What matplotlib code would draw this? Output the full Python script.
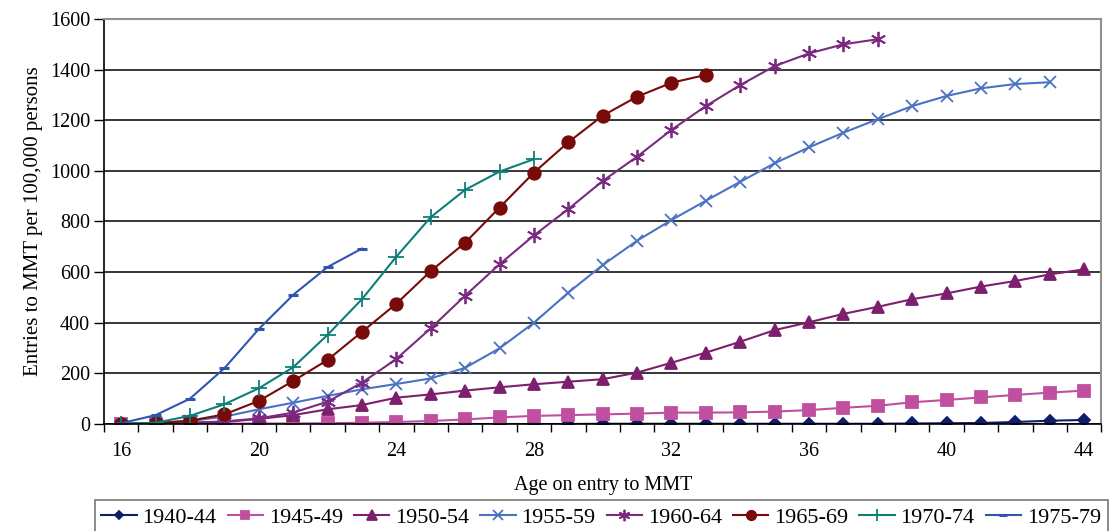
import matplotlib
matplotlib.use("Agg")
import matplotlib.pyplot as plt
from matplotlib.ticker import FixedLocator, MultipleLocator

plt.rcParams["font.family"] = ["Liberation Serif", "DejaVu Serif"]

ages = list(range(16, 45))

# entries to MMT per 100,000 persons, by birth cohort
c1940 = [0, 0, 0, 0, 0, 0, 0, 0, 0, 0, 0, 0, 0, 0, 1, 1, 1, 1, 1, 1, 1, 1, 1,
         2, 3, 4, 8, 13, 16]
c1945 = [0, 0, 1, 1, 2, 2, 3, 5, 8, 12, 18, 26, 32, 35, 38, 41, 45, 45, 46, 49,
         55, 64, 72, 86, 95, 105, 115, 124, 132]
c1950 = [0, 3, 5, 8, 20, 35, 58, 75, 104, 117, 132, 145, 157, 167, 177, 203,
         242, 282, 325, 371, 402, 435, 463, 493, 516, 543, 565, 591, 611]
c1955 = [0, 5, 12, 29, 58, 84, 111, 137, 158, 180, 222, 299, 400, 519, 628,
         724, 806, 882, 957, 1030, 1093, 1151, 1204, 1256, 1296, 1326, 1343,
         1350]
c1960 = [0, 2, 5, 10, 22, 45, 88, 163, 257, 378, 507, 631, 745, 849, 960, 1056,
         1162, 1256, 1339, 1414, 1464, 1500, 1520]
c1965 = [0, 3, 13, 38, 91, 170, 253, 364, 475, 604, 716, 855, 993, 1113, 1218,
         1293, 1348, 1379]
c1970 = [0, 5, 32, 78, 141, 224, 352, 493, 661, 817, 925, 997, 1046]
c1975 = [3, 35, 100, 220, 375, 510, 620, 693]

series = [
    ("1940-44", c1940, "#0f1d6b", "D", 6),
    ("1945-49", c1945, "#c04fa0", "s", 8),
    ("1950-54", c1950, "#7e1f6e", "^", 9),
    ("1955-59", c1955, "#4a72c4", "x", 9),
    ("1960-64", c1960, "#7a2a80", (6, 2, 0), 11),
    ("1965-69", c1965, "#780a0a", "o", 9),
    ("1970-74", c1970, "#0c8078", "+", 11),
    ("1975-79", c1975, "#2f55b0", "_", 7),
]

fig = plt.figure(figsize=(11.12, 5.31), dpi=100)
ax = fig.add_axes([0.0935, 0.2015, 0.897, 0.7628])

for name, vals, color, marker, ms in series:
    mew = 2.2 if marker == "_" else 1.3
    ax.plot(ages[:len(vals)], vals, color=color, lw=1.5, marker=marker,
            markersize=ms, markeredgewidth=mew, label=name)

ax.set_xlim(15.5, 44.5)
ax.set_ylim(0, 1600)
ax.yaxis.set_major_locator(MultipleLocator(200))
ax.xaxis.set_major_locator(FixedLocator([16, 20, 24, 28, 32, 36, 40, 44]))
ax.xaxis.set_minor_locator(FixedLocator([a + 0.5 for a in range(15, 45)]))
ax.tick_params(axis="x", which="major", length=0, labelsize=14.5, pad=13)
ax.tick_params(axis="x", which="minor", length=6, width=1, direction="out")
ax.tick_params(axis="y", length=7, width=1, labelsize=14.5, pad=3)
ax.grid(axis="y", color="black", lw=1.1)
ax.set_axisbelow(True)

for side in ["top", "right"]:
    ax.spines[side].set_color("#909090")
    ax.spines[side].set_linewidth(1.5)
ax.spines["left"].set_linewidth(1.2)
ax.spines["bottom"].set_linewidth(1.2)

ax.set_xlabel("Age on entry to MMT", fontsize=14.5, labelpad=11)
ax.set_ylabel("Entries to MMT per 100,000 persons", fontsize=15, labelpad=5)

leg = fig.legend(loc="lower left", bbox_to_anchor=(0.085, -0.006), ncol=8,
                 fontsize=16, frameon=True, fancybox=False, edgecolor="#555555",
                 handlelength=1.6, handletextpad=0.25, columnspacing=0.5,
                 borderpad=0.3, borderaxespad=0, markerscale=0.75)
leg.get_frame().set_linewidth(1.2)

fig.savefig("out.png", dpi=100)
